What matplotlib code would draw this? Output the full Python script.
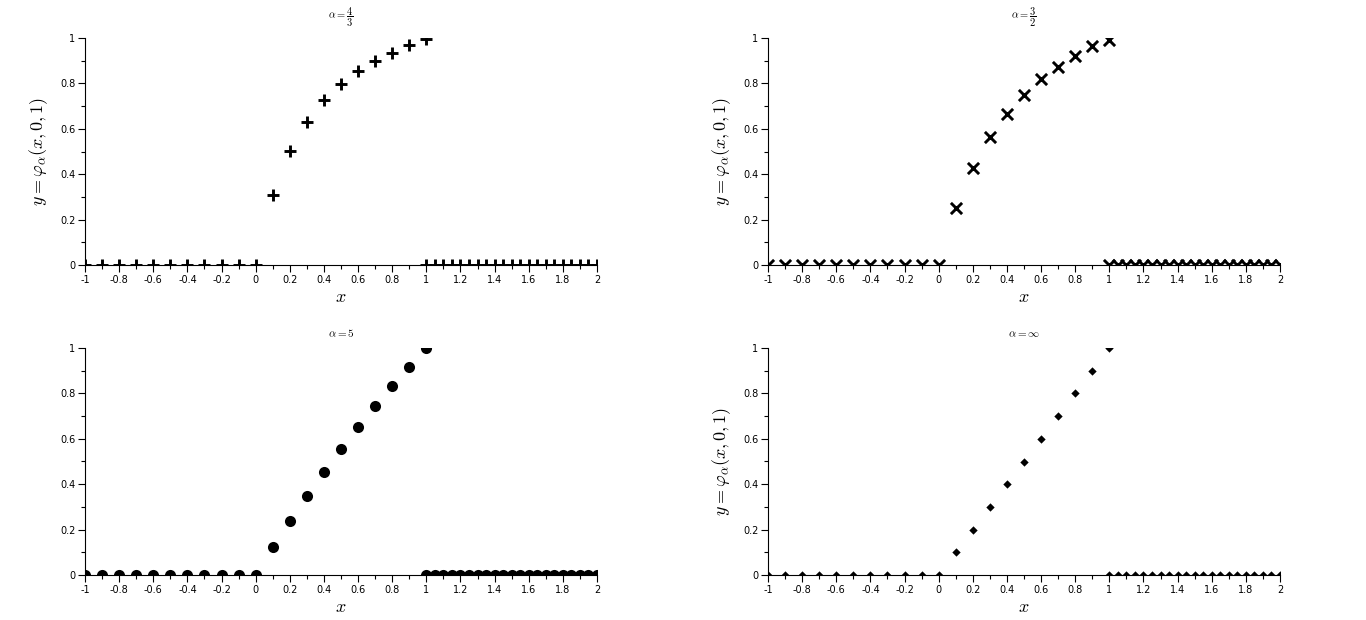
import numpy as np
import matplotlib
matplotlib.use("Agg")
import matplotlib.pyplot as plt
from matplotlib.ticker import MultipleLocator

plt.rcParams['mathtext.fontset'] = 'cm'
plt.rcParams['font.family'] = ['DejaVu Sans']

x_neg = [-1.0, -0.9, -0.8, -0.7, -0.6, -0.5, -0.4, -0.3, -0.2, -0.1, 0.0]
y_neg = [0.0] * len(x_neg)
x_mid = [0.1, 0.2, 0.3, 0.4, 0.5, 0.6, 0.7, 0.8, 0.9, 1.0]
x_tail = [1.0, 1.05, 1.1, 1.15, 1.2, 1.25, 1.3, 1.35, 1.4, 1.45, 1.5,
          1.55, 1.6, 1.65, 1.7, 1.75, 1.8, 1.85, 1.9, 1.95, 2.0]
y_tail = [0.0] * len(x_tail)

y_a43 = [0.308, 0.502, 0.630, 0.727, 0.797, 0.855, 0.899, 0.934, 0.969, 0.996]
y_a32 = [0.251, 0.427, 0.564, 0.665, 0.749, 0.819, 0.872, 0.921, 0.965, 0.99]
y_a5 = [0.123, 0.238, 0.348, 0.454, 0.555, 0.652, 0.744, 0.833, 0.916, 1.0]
y_ainf = [0.1, 0.2, 0.3, 0.4, 0.5, 0.6, 0.7, 0.8, 0.9, 1.0]

titles = [r'$\alpha = \dfrac{4}{3}$', r'$\alpha = \dfrac{3}{2}$', r'$\alpha = 5$', r'$\alpha = \infty$']
series = [y_a43, y_a32, y_a5, y_ainf]
markers = [dict(marker='+', s=80, linewidths=2.1),
           dict(marker='x', s=65, linewidths=2.1),
           dict(marker='o', s=64, linewidths=0),
           dict(marker='D', s=18, linewidths=0)]
title_sizes = [7.5, 7.5, 8, 8]
title_pads = [13.5, 13.5, 8, 8]
show_ylabel = [True, True, False, True]

fig = plt.figure(figsize=(13.66, 6.2), dpi=100)
W, H = 1366, 620
lefts = [85, 768, 85, 768]
bottoms = [265, 265, 575, 575]
for i in range(4):
    ax = fig.add_axes([lefts[i] / W, 1 - bottoms[i] / H, 512 / W, 227 / H])
    xs = x_neg + x_mid + x_tail
    ys = y_neg + series[i] + y_tail
    ax.scatter(xs, ys, color='black', clip_on=True, zorder=3, **markers[i])
    ax.set_xlim(-1, 2)
    ax.set_ylim(0, 1)
    ax.spines['top'].set_visible(False)
    ax.spines['right'].set_visible(False)
    ax.spines['left'].set_linewidth(0.8)
    ax.spines['bottom'].set_linewidth(0.8)
    ax.spines['left'].set_zorder(4)
    ax.spines['bottom'].set_zorder(4)
    ax.xaxis.set_minor_locator(MultipleLocator(0.1))
    ax.yaxis.set_minor_locator(MultipleLocator(0.1))
    ax.set_xticks(np.arange(-1, 2.01, 0.2))
    ax.set_xticklabels(['-1', '-0.8', '-0.6', '-0.4', '-0.2', '0', '0.2', '0.4',
                        '0.6', '0.8', '1', '1.2', '1.4', '1.6', '1.8', '2'])
    ax.set_yticks([0, 0.2, 0.4, 0.6, 0.8, 1.0])
    ax.set_yticklabels(['0', '0.2', '0.4', '0.6', '0.8', '1'])
    ax.tick_params(axis='both', which='major', labelsize=7, length=5, width=0.8, pad=2, direction='out')
    ax.tick_params(axis='both', which='minor', length=3, width=0.8, direction='out')
    ax.set_title(titles[i], fontsize=title_sizes[i], pad=title_pads[i])
    ax.set_xlabel(r'$x$', fontsize=13, labelpad=2)
    if show_ylabel[i]:
        ax.set_ylabel(r'$y = \varphi_\alpha(x,0,1)$', fontsize=13, labelpad=7)

fig.savefig('out.png', dpi=100)
